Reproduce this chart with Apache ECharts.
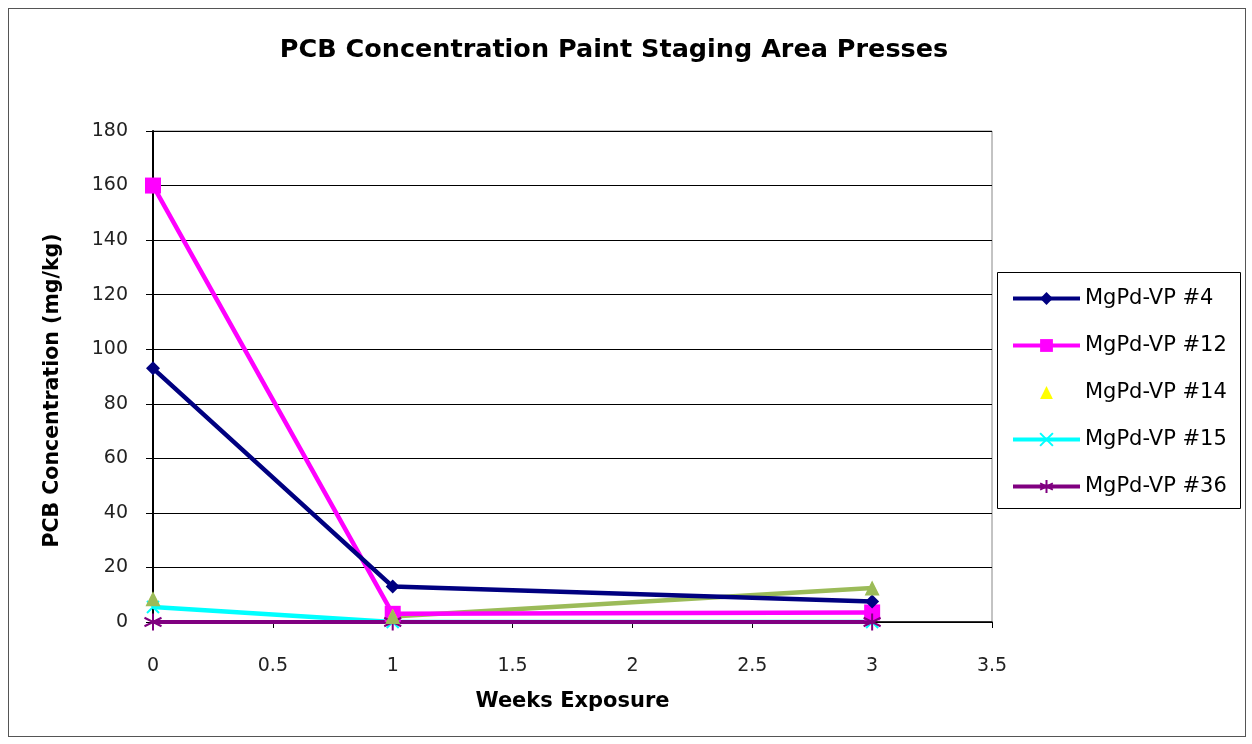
<!DOCTYPE html>
<html><head><meta charset="utf-8">
<script src="https://cdn.jsdelivr.net/npm/echarts@6/dist/echarts.min.js"></script>
<style>html,body{margin:0;padding:0;background:#fff}#c{width:1252px;height:744px}
#frame{position:absolute;left:8px;top:8px;width:1236px;height:727px;border:1px solid #555;pointer-events:none}</style>
</head><body><div id="c"></div><div id="frame"></div>
<script>
const weeks = [0, 1, 3];
const seriesNames = ['MgPd-VP #4', 'MgPd-VP #12', 'MgPd-VP #14', 'MgPd-VP #15', 'MgPd-VP #36'];
const vp4 = [93, 13, 7.5];
const vp12 = [160, 3, 3.5];
const vp14 = [8.5, 2.5, 12.5];
const olive = [8.5, 2, 12.5];
const vp15 = [5.5, 0, 0];
const vp36 = [0, 0, 0];
const xTicks = [0, 0.5, 1, 1.5, 2, 2.5, 3, 3.5];

const pair = (v, xs = weeks) => xs.map((w, i) => [w, v[weeks.indexOf(w)]]);
const star = 'path://M0,-10L0,10M-8.66,-5L8.66,5M-8.66,5L8.66,-5';
const cross = 'path://M-7,-7L7,7M-7,7L7,-7';
const font = 'DejaVu Sans, Verdana, sans-serif';

const chart = echarts.init(document.getElementById('c'));
chart.setOption({
  animation: false,
  title: { text: 'PCB Concentration Paint Staging Area Presses', left: 609, top: 32, textAlign: 'center',
    textStyle: { fontFamily: font, fontSize: 25.5, fontWeight: 'bold', color: '#000' } },
  grid: { left: 153, right: 260, top: 131, bottom: 122, show: true, borderColor: '#888', borderWidth: 1 },
  graphic: [{ type: 'rect', left: 997, top: 272, shape: { width: 243, height: 236 },
    style: { fill: '#fff', stroke: '#000', lineWidth: 1 }, z: 0 }],
  legend: { orient: 'vertical', left: 1006, top: 283, itemWidth: 67, itemHeight: 16, itemGap: 26,
    textStyle: { fontFamily: font, fontSize: 21, color: '#000' }, z: 5,
    lineStyle: { width: 4 },
    data: [seriesNames[0], seriesNames[1],
      { name: seriesNames[2], itemStyle: { color: '#FFFF00' }, lineStyle: { opacity: 0 } },
      seriesNames[3], seriesNames[4]] },
  xAxis: { type: 'value', min: 0, max: 3.5, interval: 0.5,
    name: 'Weeks Exposure', nameLocation: 'middle', nameGap: 69,
    nameTextStyle: { fontFamily: font, fontSize: 21, fontWeight: 'bold', color: '#000' },
    axisLine: { lineStyle: { color: '#000', width: 1.5 } },
    axisTick: { show: true, length: 6, lineStyle: { color: '#000' } },
    axisLabel: { fontFamily: font, fontSize: 19, color: '#222', margin: 35, formatter: v => String(v) },
    splitLine: { show: false } },
  yAxis: { type: 'value', min: 0, max: 180, interval: 20,
    name: 'PCB Concentration (mg/kg)', nameLocation: 'middle', nameGap: 90, nameRotate: 90,
    nameTextStyle: { fontFamily: font, fontSize: 20.5, fontWeight: 'bold', color: '#000', padding: [0, 28, 0, 0] },
    axisLine: { show: true, lineStyle: { color: '#000', width: 2 } },
    axisTick: { show: true, length: 7, lineStyle: { color: '#000' } },
    axisLabel: { fontFamily: font, fontSize: 19, color: '#222', margin: 25 },
    splitLine: { show: true, lineStyle: { color: '#000', width: 1.2 } } },
  series: [
    { name: 'olive-line', type: 'line', data: pair(olive, weeks.slice(1)), showSymbol: false,
      lineStyle: { color: '#9BBB59', width: 4.5 }, itemStyle: { color: '#9BBB59' }, z: 2 },
    { name: seriesNames[0], type: 'line', data: pair(vp4), symbol: 'diamond', symbolSize: 14,
      lineStyle: { color: '#000080', width: 4.5 }, itemStyle: { color: '#000080' }, z: 4 },
    { name: seriesNames[1], type: 'line', data: pair(vp12), symbol: 'rect', symbolSize: 16,
      lineStyle: { color: '#FF00FF', width: 4.5 }, itemStyle: { color: '#FF00FF' }, z: 3 },
    { name: seriesNames[2], type: 'line', data: pair(vp14), symbol: 'triangle', symbolSize: 13,
      lineStyle: { width: 0, opacity: 0 }, itemStyle: { color: '#FFFF00' }, z: 3 },
    { name: 'olive-marks', type: 'line', data: pair(olive), symbol: 'triangle', symbolSize: 15,
      lineStyle: { width: 0, opacity: 0 }, itemStyle: { color: '#9BBB59' }, z: 5 },
    { name: seriesNames[3], type: 'line', data: pair(vp15), symbol: cross, symbolSize: 12,
      lineStyle: { color: '#00FFFF', width: 4.5 }, itemStyle: { color: '#00FFFF', borderColor: '#00FFFF', borderWidth: 2 }, z: 2 },
    { name: seriesNames[4], type: 'line', data: pair(vp36), symbol: star, symbolSize: 17,
      lineStyle: { color: '#800080', width: 4 }, itemStyle: { color: '#800080', borderColor: '#800080', borderWidth: 2 }, z: 3 }
  ]
});
</script></body></html>
